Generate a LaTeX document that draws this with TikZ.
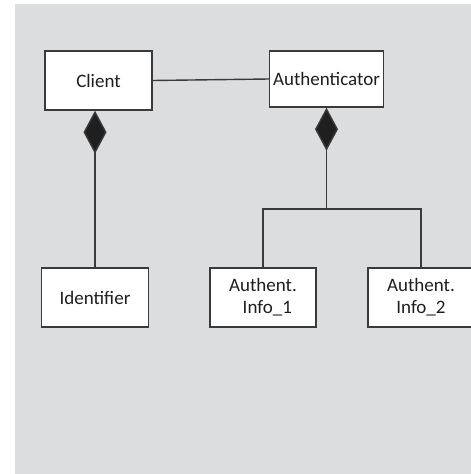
\documentclass[tikz,border=0pt]{standalone}
\usepackage{fontspec}
\setmainfont{Carlito}
\usetikzlibrary{arrows.meta}
\definecolor{bggrey}{HTML}{DCDDDF}
\definecolor{linegrey}{HTML}{3A3A3A}
\definecolor{txt}{HTML}{1E1E1E}
\begin{document}
\begin{tikzpicture}[x=1pt,y=-1pt,
  box/.style={draw=linegrey, fill=white, line width=1.4pt, inner sep=0pt,
    align=center, font=\fontsize{19}{23}\selectfont, text=txt},
  link/.style={draw=linegrey, line width=1.4pt},
  comp/.style={link, -{Diamond[length=43pt,width=23pt,fill=black!88,line join=miter]}}]
\useasboundingbox (0,0) rectangle (471,474);
\fill[white] (0,0) rectangle (471,474);
\fill[bggrey] (15,4) rectangle (471,474);
\node[box, minimum width=107pt, minimum height=59pt] (client) at (98.5,80.5) {Client};
\node[box, minimum width=114pt, minimum height=56pt] (auth) at (326.5,79) {Authenticator};
\node[box, minimum width=107pt, minimum height=59pt] (ident) at (95,297.5) {Identifier};
\node[box, minimum width=106pt, minimum height=59pt] (info1) at (263,297.5) {Authent.\\[-1pt]\ \ Info\_1};
\node[box, minimum width=106pt, minimum height=59pt] (info2) at (421,297.5) {Authent.\\[-1pt]Info\_2};
\coordinate (j) at (326.5,209);
\draw[link] (client.east) -- (auth.west);
\draw[comp] (ident.north) -- (ident.north |- client.south);
\draw[link] (info1.north) |- (j) -| (info2.north);
\draw[comp] (j) -- (auth.south);
\end{tikzpicture}
\end{document}
